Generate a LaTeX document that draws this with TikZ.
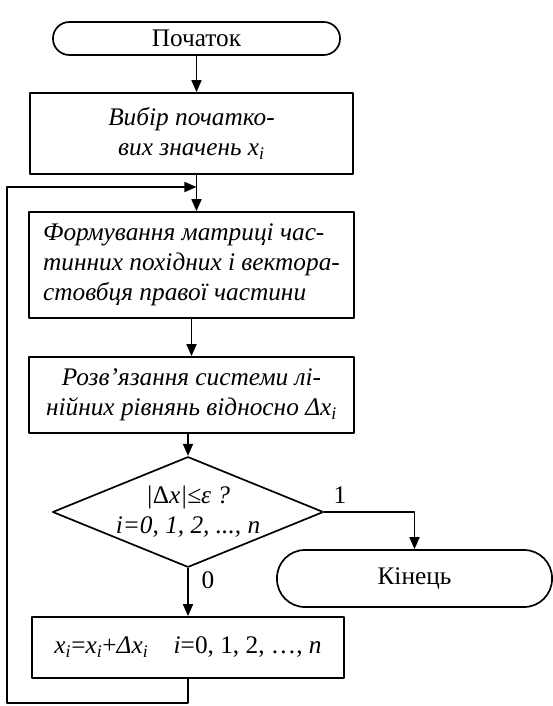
\documentclass[tikz,border=0pt]{standalone}
\usepackage{fontspec}
\setmainfont{Liberation Serif}
\usetikzlibrary{shapes.geometric,arrows.meta}
\newcommand{\xsub}{\textit{x}\textsubscript{\textit{i}}}

\begin{document}
\begin{tikzpicture}[x=0.025cm, y=-0.025cm, line join=round,
    every node/.style={font=\fontsize{18}{21.5}\selectfont},
    ital/.style={font=\fontsize{18}{21.5}\selectfont\itshape},
    term/.style={draw, line width=1.2pt, rounded corners=#1, inner sep=0pt},
    block/.style={draw, line width=1.2pt, inner sep=0pt},
    decision/.style={draw, diamond, aspect=2.45, line width=1.2pt, inner sep=0pt},
    arr/.style={line width=1.2pt, -{Triangle[length=0.3cm, width=0.25cm]}},
    line/.style={line width=1.2pt}]
    \useasboundingbox (0,0) rectangle (553,706);
    % blocks
    \node[term=0.41cm, minimum width=7.175cm, minimum height=0.825cm] (start) at (196.5,38.5) {Початок};
    \node[block, ital, minimum width=8.075cm, minimum height=2.025cm, align=center] (choose) at (191.5,133.5)
        {Вибір початко-\\вих значень \xsub};
    \node[block, ital, minimum width=8.125cm, minimum height=2.65cm, align=left] (jacobi) at (191.5,265)
        {Формування матриці час-\\тинних похідних і вектора-\\стовбця правої частини};
    \node[block, ital, minimum width=8.125cm, minimum height=1.9cm, align=center] (solve) at (191.5,395)
        {Розв’язання системи лі-\\нійних рівнянь відносно Δ\xsub};
    \node[decision, ital, minimum width=6.725cm, minimum height=2.525cm, align=center] (check) at (188,512)
        {|\textup{Δ}x|≤ε ?\\i=0, 1, 2, ..., n};
    \node[term=0.7cm, minimum width=6.875cm, minimum height=1.425cm] (finish) at (414.5,578.5) {Кінець};
    \node[block, minimum width=7.8cm, minimum height=1.525cm] (update) at (188,647.5)
        {\xsub=\xsub+\textit{Δ}\xsub\quad \textit{i}=0, 1, 2, …, \textit{n}};
    \coordinate (bl) at (7,703);
    \coordinate (merge) at (196.5,187);
    % connectors
    \draw[arr] (start) -- (start |- choose.north);
    \draw[arr] (start |- choose.south) -- (start |- jacobi.north);
    \draw[arr] (jacobi) -- (jacobi |- solve.north);
    \draw[arr] (solve.south -| check) -- (check.north);
    \draw[arr] (check.east) -| (finish.north);
    \draw[arr] (check.south) -- (check |- update.north);
    \draw[arr] (update.south) |- (bl) |- (merge);
    \node at (340,495) {1};
    \node at (208,580) {0};
\end{tikzpicture}
\end{document}
